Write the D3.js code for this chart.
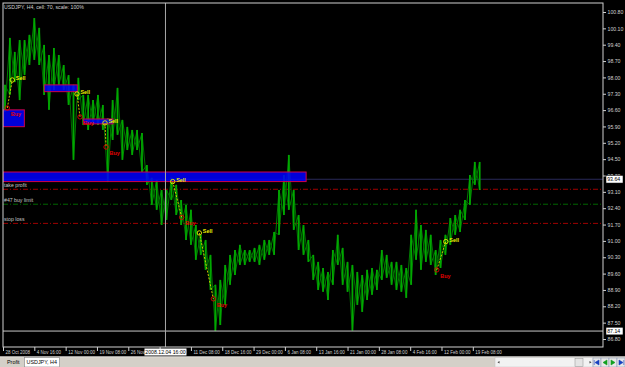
<!DOCTYPE html>
<html>
<head>
<meta charset="utf-8">
<script src="https://cdn.jsdelivr.net/npm/d3@7"></script>
<style>
body { margin:0; background:#000; }
svg { display:block; font-family:"Liberation Sans", Arial, sans-serif; }
</style>
</head>
<body>
<svg id="chart" width="625" height="367"></svg>
<script>
const chartTitle = "USDJPY, H4, cell: 70, scale: 100%";

// H4 bars, read every 5 bars (bar number, high, low)
const barIndex = [2,7,12,17,22,27,32,37,42,47,52,57,62,67,72,77,82,87,92,97,
  102,107,112,117,122,127,132,137,142,147,152,157,162,167,172,177,182,187,192,197,
  202,207,212,217,222,227,232,237,242,247,252,257,262,267,272,277,282,287,292,297,
  302,307,312,317,322,327,332,337,342,347,352,357,362,367,372,377,382,387,392,397,
  402,407,412,417,422,427,432,437,442,447,452,457,462,467,472,477,482,487];
const highs = [97.68,99.69,99.09,99.60,99.60,99.82,100.54,100.12,99.39,98.96,
  99.26,98.96,98.53,98.10,97.68,97.98,97.25,97.25,97.03,97.25,
  96.82,96.26,97.03,97.55,96.18,95.88,95.75,95.75,95.62,94.25,
  93.70,93.61,93.18,93.18,93.70,93.40,92.75,92.54,92.33,91.68,
  91.26,91.04,90.40,89.12,89.33,89.97,90.40,90.61,90.83,90.61,
  90.61,90.70,90.83,91.04,91.04,91.38,93.18,93.82,94.68,93.18,
  92.11,91.68,91.04,90.40,90.10,89.84,89.67,90.61,91.26,90.70,
  90.10,89.97,89.67,89.54,89.76,89.84,89.76,90.61,90.40,90.10,
  90.10,89.97,89.84,91.26,92.33,91.68,91.47,91.26,90.61,91.04,
  91.26,91.98,92.11,92.33,92.75,93.82,94.38,94.38];
const lows = [96.52,97.25,97.80,97.03,98.10,98.53,98.75,98.53,97.25,96.61,
  97.46,97.68,97.46,96.82,94.47,97.03,95.96,95.75,95.96,95.96,
  95.75,93.52,95.32,95.54,94.47,94.89,94.68,94.89,93.95,93.40,
  92.54,92.33,91.68,91.90,92.75,92.11,91.68,91.04,90.83,90.19,
  90.40,89.76,88.90,87.14,87.40,88.26,89.12,89.54,89.97,89.97,
  90.10,90.10,89.97,90.19,90.40,90.40,91.26,92.11,92.33,91.47,
  90.61,90.40,90.10,89.33,88.90,88.82,88.47,89.12,89.97,89.12,
  88.82,87.16,88.26,87.96,88.47,88.69,88.90,89.33,89.42,89.12,
  88.90,88.82,88.56,89.12,90.19,89.76,90.10,89.97,89.54,89.84,
  90.40,90.83,91.26,91.38,91.90,92.54,93.40,93.18];

const priceTicks = ["100.80","100.10","99.40","98.70","98.00","97.30","96.60","95.90","95.20","94.50",
  "93.80","93.10","92.40","91.70","91.00","90.30","89.60","88.90","88.20","87.50","86.80"];
const timeTickBars = [0,32,64,96,128,160,192,224,256,288,320,352,384,416,448,480];
const timeLabels = ["28 Oct 2008","4 Nov 16:00","12 Nov 00:00","19 Nov 08:00","26 Nov 16:00","4 Dec 00:00",
  "11 Dec 08:00","18 Dec 16:00","29 Dec 00:00","6 Jan 08:00","13 Jan 16:00","21 Jan 00:00",
  "28 Jan 08:00","4 Feb 16:00","12 Feb 00:00","19 Feb 08:00"];

// trades
const tradeBars = [4.4,9.5,75.6,78.7,104.2,105.3,173.4,182.6,200.6,214.9,443.2,452.4];
const tradePrices = [96.69,97.89,97.29,96.31,96.05,95.02,93.54,92.01,91.34,88.52,89.76,90.97];
const tradeTypes = ["Buy","Sell","Sell","Buy","Sell","Buy","Sell","Buy","Sell","Buy","Buy","Sell"];
const tradePairs = [[0,1],[2,3],[4,5],[6,7],[8,9],[10,11]];

// rectangles
const zoneBars = [[0,21.8],[42.2,75.9],[82.1,112.4],[0,309.7]];
const zonePrices = [[96.61,95.89],[97.68,97.39],[96.22,96.01],[93.95,93.54]];

// order levels
const levelNames = ["take profit","#47 buy limit","stop loss"];
const levelPrices = [93.21,92.57,91.75];
const levelColors = ["#c80000","#008000","#c80000"];

const bidPrice = 93.64;
const lowLinePrice = 87.14;
const cursorBar = 166;
const cursorLabel = "2008.12.04 16:00";

const svg = d3.select("#chart");
const W = 625, H = 367;
const plot = {left:3, right:603, top:3, bottom:347};

const x = d3.scaleLinear().domain([0, 613]).range([plot.left, plot.right]);
const y = d3.scaleLinear().domain([86.8, 100.8]).range([339, 12]);

svg.append("rect").attr("width", W).attr("height", H).attr("fill", "#000");

svg.append("clipPath").attr("id", "clip")
  .append("rect")
  .attr("x", plot.left).attr("y", plot.top)
  .attr("width", plot.right - plot.left).attr("height", plot.bottom - plot.top);

const g = svg.append("g").attr("clip-path", "url(#clip)");

// bid line
g.append("line")
  .attr("x1", plot.left).attr("x2", plot.right)
  .attr("y1", y(bidPrice)).attr("y2", y(bidPrice))
  .attr("stroke", "#2a2a5a").attr("stroke-width", 1.2);

// order levels
levelPrices.forEach((p, i) => {
  g.append("line")
    .attr("x1", plot.left).attr("x2", plot.right)
    .attr("y1", y(p)).attr("y2", y(p))
    .attr("stroke", levelColors[i])
    .attr("stroke-width", 0.8)
    .attr("stroke-dasharray", "5,2,1,2");
  g.append("text")
    .text(levelNames[i])
    .attr("x", 4).attr("y", y(p) - 2)
    .attr("fill", "#c8c8c8")
    .attr("font-size", 5.2);
});

// price bars
const bars = barIndex.map((b, i) => ({b: b, hi: highs[i], lo: lows[i]}));

// crossing strokes between neighbouring bars, gives the dense bar look
const pairs = d3.pairs(bars);
g.selectAll(".link1").data(pairs).enter().append("line")
  .attr("x1", p => x(p[0].b)).attr("y1", p => y(p[0].lo))
  .attr("x2", p => x(p[1].b)).attr("y2", p => y(p[1].hi))
  .attr("stroke", "#008c00").attr("stroke-width", 0.9);
g.selectAll(".link2").data(pairs).enter().append("line")
  .attr("x1", p => x(p[0].b)).attr("y1", p => y(p[0].hi))
  .attr("x2", p => x(p[1].b)).attr("y2", p => y(p[1].lo))
  .attr("stroke", "#007800").attr("stroke-width", 0.9);

g.selectAll(".bar").data(bars).enter().append("line")
  .attr("class", "bar")
  .attr("x1", d => x(d.b)).attr("x2", d => x(d.b))
  .attr("y1", d => y(d.hi)).attr("y2", d => y(d.lo))
  .attr("stroke", "#00a800").attr("stroke-width", 1.8);

// rectangles
zoneBars.forEach((zb, i) => {
  g.append("rect")
    .attr("x", x(zb[0])).attr("y", y(zonePrices[i][0]))
    .attr("width", x(zb[1]) - x(zb[0]))
    .attr("height", y(zonePrices[i][1]) - y(zonePrices[i][0]))
    .attr("fill", "#0000ff").attr("fill-opacity", 0.85)
    .attr("stroke", "#d0004a").attr("stroke-width", 1);
});

// trade connection lines
tradePairs.forEach(p => {
  g.append("line")
    .attr("x1", x(tradeBars[p[0]])).attr("y1", y(tradePrices[p[0]]))
    .attr("x2", x(tradeBars[p[1]])).attr("y2", y(tradePrices[p[1]]))
    .attr("stroke", "#e8d000")
    .attr("stroke-width", 0.9)
    .attr("stroke-dasharray", "2,1.5");
});

// trade markers
tradeBars.forEach((b, i) => {
  const col = tradeTypes[i] === "Sell" ? "#f0f000" : "#e00000";
  g.append("circle")
    .attr("cx", x(b)).attr("cy", y(tradePrices[i]))
    .attr("r", 2.2)
    .attr("fill", "none").attr("stroke", col).attr("stroke-width", 0.9);
  g.append("text")
    .text(tradeTypes[i])
    .attr("x", x(b) + 3.5)
    .attr("y", tradeTypes[i] === "Sell" ? y(tradePrices[i]) : y(tradePrices[i]) + 8)
    .attr("fill", col)
    .attr("font-size", 5.4)
    .attr("font-weight", "bold");
});

// low horizontal line and cursor line
g.append("line")
  .attr("x1", plot.left).attr("x2", plot.right)
  .attr("y1", y(lowLinePrice)).attr("y2", y(lowLinePrice))
  .attr("stroke", "#c8c8c8").attr("stroke-width", 1);
g.append("line")
  .attr("x1", x(cursorBar)).attr("x2", x(cursorBar))
  .attr("y1", plot.top).attr("y2", plot.bottom)
  .attr("stroke", "#a8a8a8").attr("stroke-width", 1);

// frame
svg.append("rect")
  .attr("x", plot.left).attr("y", plot.top)
  .attr("width", plot.right - plot.left).attr("height", plot.bottom - plot.top)
  .attr("fill", "none").attr("stroke", "#d0d0d0").attr("stroke-width", 1);

svg.append("text")
  .text(chartTitle)
  .attr("x", 4).attr("y", 9)
  .attr("fill", "#d0d0d0")
  .attr("font-size", 5.2);

// right price axis
const yAxis = d3.axisRight(y)
  .tickValues(priceTicks.map(Number))
  .tickFormat((d, i) => priceTicks[i])
  .tickSize(3)
  .tickPadding(1.5);
const ya = svg.append("g")
  .attr("transform", `translate(${plot.right},0)`)
  .call(yAxis);
ya.select(".domain").remove();
ya.selectAll("line").attr("stroke", "#d0d0d0");
ya.selectAll("text").attr("fill", "#d0d0d0").attr("font-size", 5.2).attr("font-family", "Liberation Sans, Arial, sans-serif");

// price boxes
[bidPrice, lowLinePrice].forEach(p => {
  svg.append("rect")
    .attr("x", 606).attr("y", y(p) - 3.8)
    .attr("width", 17).attr("height", 7.6)
    .attr("fill", "#fff").attr("stroke", "#000").attr("stroke-width", 0.5);
  svg.append("text")
    .text(p.toFixed(2))
    .attr("x", 607.2).attr("y", y(p) + 1.9)
    .attr("fill", "#000").attr("font-size", 5.2);
});

// bottom time axis
const xAxis = d3.axisBottom(x)
  .tickValues(timeTickBars)
  .tickFormat((d, i) => timeLabels[i])
  .tickSize(4);
const xa = svg.append("g")
  .attr("transform", `translate(0,${plot.bottom})`)
  .call(xAxis);
xa.select(".domain").remove();
xa.selectAll("line").attr("stroke", "#d0d0d0");
xa.selectAll("text")
  .attr("fill", "#d0d0d0")
  .attr("font-size", 4.5)
  .attr("font-family", "Liberation Sans, Arial, sans-serif")
  .attr("text-anchor", "start")
  .attr("x", 2).attr("y", 3.4);

// cursor time box
svg.append("rect")
  .attr("x", x(cursorBar) - 21).attr("y", 348.5)
  .attr("width", 42).attr("height", 7)
  .attr("fill", "#fff");
svg.append("text")
  .text(cursorLabel)
  .attr("x", x(cursorBar)).attr("y", 354.3)
  .attr("text-anchor", "middle")
  .attr("fill", "#000").attr("font-size", 5.2);

// tab bar
const tabs = svg.append("g");
tabs.append("rect").attr("x", 0).attr("y", 356.5).attr("width", W).attr("height", 10.5).attr("fill", "#d4d0c8");
tabs.append("line").attr("x1", 0).attr("x2", W).attr("y1", 356.8).attr("y2", 356.8).attr("stroke", "#f4f4f4").attr("stroke-width", 0.6);
tabs.append("text").text("Profit").attr("x", 7).attr("y", 364.4).attr("font-size", 5.4).attr("fill", "#000");
tabs.append("rect").attr("x", 24.5).attr("y", 357.5).attr("width", 35).attr("height", 9.5)
  .attr("fill", "#fff").attr("stroke", "#808080").attr("stroke-width", 0.6);
tabs.append("text").text("USDJPY, H4").attr("x", 26.5).attr("y", 364.4).attr("font-size", 5.4).attr("fill", "#000");

// scroll bar and navigation buttons
tabs.append("rect").attr("x", 495).attr("y", 357.5).attr("width", 98).attr("height", 9.5)
  .attr("fill", "#f2f2f2").attr("stroke", "#c0c0c0").attr("stroke-width", 0.5);
tabs.append("path").attr("d", "M497.5,362.3 L499.5,361 L499.5,363.6 Z").attr("fill", "#404040");
tabs.append("rect").attr("x", 575).attr("y", 358.3).attr("width", 8).attr("height", 8)
  .attr("fill", "#e4e4e4").attr("stroke", "#909090").attr("stroke-width", 0.5);
tabs.append("path").attr("d", "M589.5,361 L591.5,362.3 L589.5,363.6 Z").attr("fill", "#404040");
const navX = [593, 601, 609, 617];
const navIcons = [
  "M2,4.5 L6,2 L6,7 Z M1.2,2 L1.2,7",
  "M2,4.5 L6,2 L6,7 Z",
  "M2,2 L6,4.5 L2,7 Z",
  "M2,2 L6,4.5 L2,7 Z M6.8,2 L6.8,7"
];
navX.forEach((nx, i) => {
  const b = tabs.append("g").attr("transform", `translate(${nx},358)`);
  b.append("rect").attr("width", 8).attr("height", 9)
    .attr("fill", "#e8e8e8").attr("stroke", "#8090b0").attr("stroke-width", 0.5);
  b.append("path").attr("d", navIcons[i])
    .attr("fill", i === 0 || i === 3 ? "#1840c0" : "#10a020")
    .attr("stroke", i === 0 || i === 3 ? "#1840c0" : "#10a020")
    .attr("stroke-width", 0.6);
});
</script>
</body>
</html>
